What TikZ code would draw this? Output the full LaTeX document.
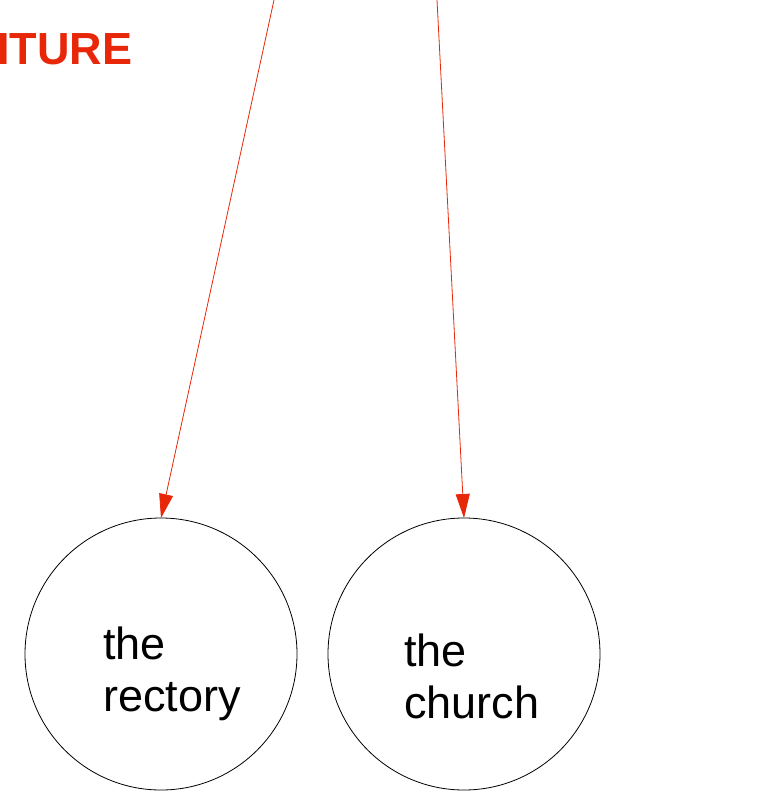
\documentclass[tikz,border=0pt]{standalone}
\usepackage{fontspec}
\setmainfont{Liberation Sans}
\usepackage{tikz}
\usetikzlibrary{arrows.meta, positioning}
\definecolor{titlered}{RGB}{232,38,8}

\begin{document}
\begin{tikzpicture}[x=1pt,y=1pt,node distance=31pt,
                    place node/.style={circle,draw,line width=0.8pt,minimum size=272pt,inner sep=0pt,outer sep=0pt},
                    place text/.style={anchor=base west,align=left,inner sep=0pt,font=\fontsize{45}{52}\selectfont},
                    red arrow/.style={color=titlered,line width=0.8pt,-{Triangle[length=24pt,width=14pt]}}]
  \useasboundingbox (0,0) rectangle (764,-809);

  \node[anchor=base west,inner sep=0pt,text=titlered,font=\fontsize{45}{50}\selectfont\bfseries] (title) at (-3,-64) {ITURE};

  \node[place node] (rectory) at (161,-654) {};
  \node[place node] (church) [right=of rectory] {};
  \node[place text] (rectorytext) at (103,-711) {the\\rectory};
  \node[place text] (churchtext) at (404,-718) {the\\church};

  \coordinate (topleft) at (274,0);
  \coordinate (topright) at (437,0);

  \path
    (topleft) edge[red arrow] (rectory.north)
    (topright) edge[red arrow] (church.north);

\end{tikzpicture}
\end{document}
